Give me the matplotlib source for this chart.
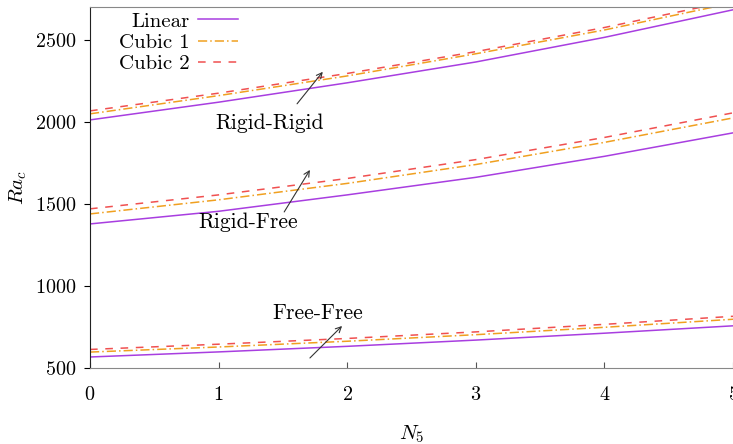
import matplotlib.pyplot as plt

plt.rcParams['font.family'] = ['cmr10', 'DejaVu Serif']
plt.rcParams['mathtext.fontset'] = 'cm'
plt.rcParams['axes.formatter.use_mathtext'] = True

N5 = [0, 1, 2, 3, 4, 5]

# Rigid-Rigid
rr_lin = [2012, 2120, 2238, 2365, 2515, 2683]
rr_cub1 = [2049, 2160, 2280, 2415, 2560, 2725]
rr_cub2 = [2067, 2175, 2295, 2428, 2575, 2740]
# Rigid-Free
rf_lin = [1378, 1455, 1555, 1662, 1790, 1933]
rf_cub1 = [1439, 1525, 1625, 1740, 1875, 2024]
rf_cub2 = [1470, 1555, 1655, 1770, 1905, 2055]
# Free-Free
ff_lin = [567, 598, 632, 670, 712, 757]
ff_cub1 = [597, 628, 663, 703, 748, 797]
ff_cub2 = [613, 645, 680, 720, 766, 815]

c_lin = '#a83ee0'
c_c1 = '#f0a020'
c_c2 = '#f05050'

fig = plt.figure(figsize=(7.33, 4.44), dpi=100)
ax = fig.add_axes([0.1228, 0.1712, 0.8772, 0.813])

for lin, c1, c2, lab in [(rr_lin, rr_cub1, rr_cub2, True),
                         (rf_lin, rf_cub1, rf_cub2, False),
                         (ff_lin, ff_cub1, ff_cub2, False)]:
    ax.plot(N5, lin, color=c_lin, lw=1.1, label='Linear' if lab else None)
    ax.plot(N5, c1, color=c_c1, lw=1.1, dashes=(6, 2, 1, 2), label='Cubic 1' if lab else None)
    ax.plot(N5, c2, color=c_c2, lw=1.1, dashes=(5, 5), label='Cubic 2' if lab else None)

ax.set_xlim(0, 5)
ax.set_ylim(500, 2700)
ax.set_xticks([0, 1, 2, 3, 4, 5])
ax.set_yticks([500, 1000, 1500, 2000, 2500])
ax.tick_params(axis='x', direction='in', length=4, labelsize=14.5, pad=13, color='#555555')
ax.tick_params(axis='y', direction='out', length=4, labelsize=14.5, pad=6)
ax.spines['bottom'].set_color('#888888')
ax.spines['top'].set_color('#888888')
ax.spines['right'].set_visible(False)
ax.spines['left'].set_color('#222222')

ax.set_xlabel('$N_5$', fontsize=15, labelpad=14)
ax.set_ylabel('$Ra_c$', fontsize=15, labelpad=4)

arrow = dict(arrowstyle='->', color='#333333', lw=0.8, shrinkA=0, shrinkB=0)
ax.annotate('', xy=(1.81, 2305), xytext=(1.61, 2110), arrowprops=arrow)
ax.text(1.40, 1994, 'Rigid-Rigid', fontsize=15.5, ha='center', va='center')
ax.annotate('', xy=(1.71, 1707), xytext=(1.51, 1451), arrowprops=arrow)
ax.text(1.23, 1390, 'Rigid-Free', fontsize=15.5, ha='center', va='center')
ax.annotate('', xy=(1.96, 756), xytext=(1.71, 561), arrowprops=arrow)
ax.text(1.77, 835, 'Free-Free', fontsize=15.5, ha='center', va='center')

leg = ax.legend(loc='upper right', bbox_to_anchor=(238 / 733, 1 - 12 / 444),
                bbox_transform=fig.transFigure, frameon=False,
                markerfirst=False, fontsize=15, handlelength=1.9,
                labelspacing=0.13, handletextpad=0.4, borderpad=0, borderaxespad=0)
for t in leg.get_texts():
    t.set_ha('right')
leg._legend_box.align = 'right'

fig.savefig('out.png', dpi=100)
